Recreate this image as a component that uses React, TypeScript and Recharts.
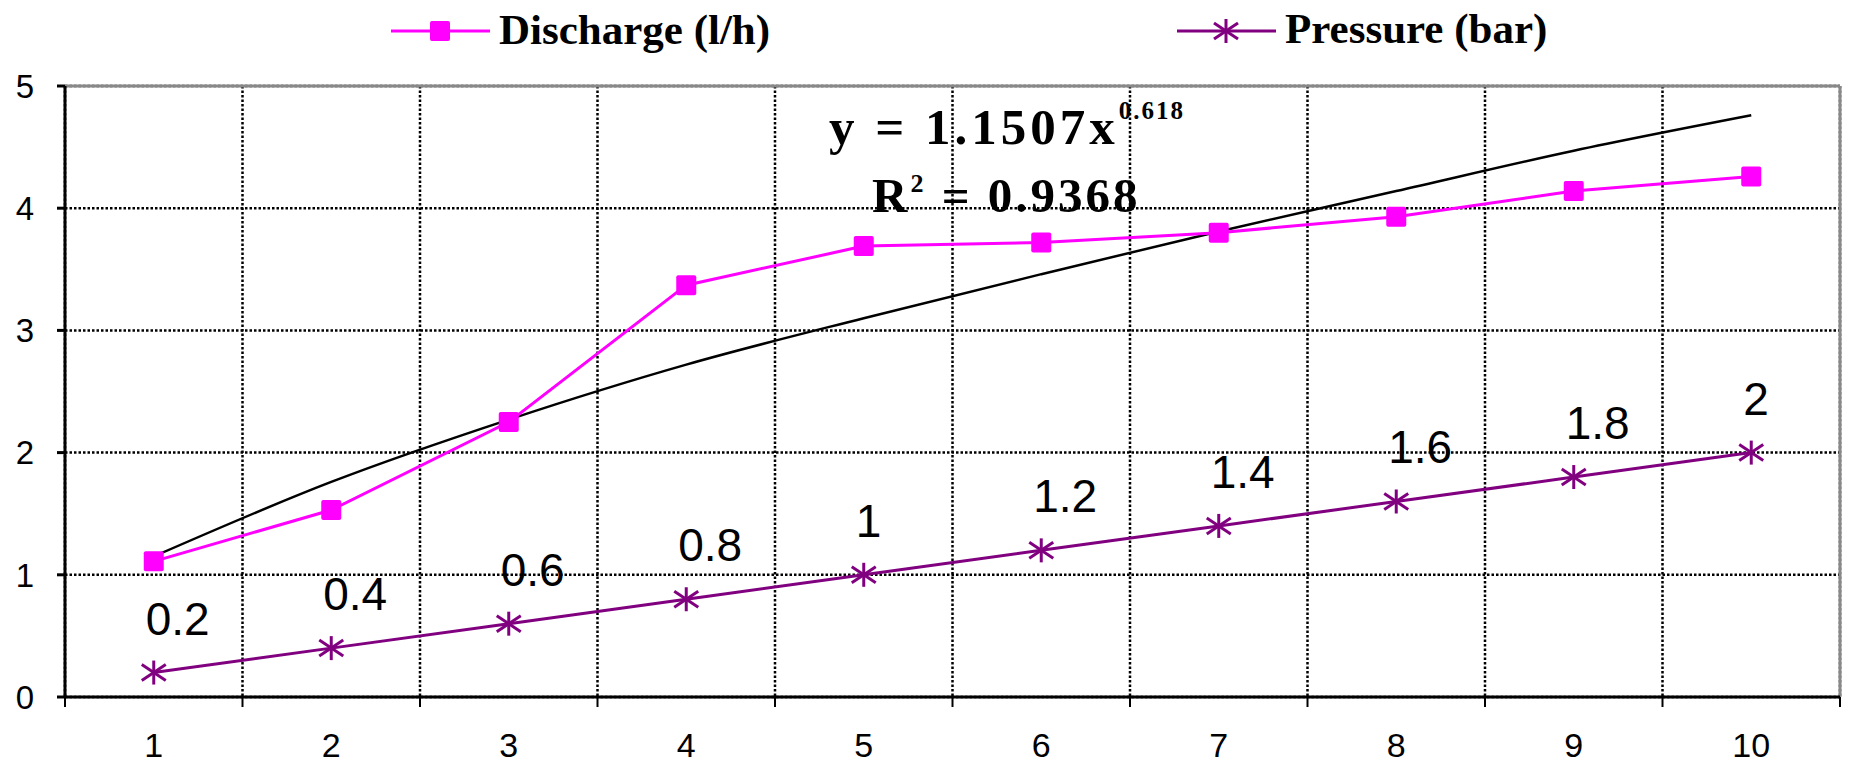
import React from "react";
import {
  LineChart,
  Line,
  XAxis,
  YAxis,
  CartesianGrid,
  ReferenceLine,
  LabelList,
} from "recharts";

const positions = [1, 2, 3, 4, 5, 6, 7, 8, 9, 10];
const discharge = [1.11, 1.53, 2.25, 3.37, 3.69, 3.72, 3.8, 3.93, 4.14, 4.26];
const pressure = [0.2, 0.4, 0.6, 0.8, 1, 1.2, 1.4, 1.6, 1.8, 2];
// power trendline as drawn in the picture
const trend = [1.15, 1.76, 2.27, 2.72, 3.1, 3.46, 3.81, 4.14, 4.47, 4.76];
const yTicks = [0, 1, 2, 3, 4, 5];
const bandEdges = [0.5, 1.5, 2.5, 3.5, 4.5, 5.5, 6.5, 7.5, 8.5, 9.5, 10.5];

const data = positions.map((x, i) => ({
  x,
  discharge: discharge[i],
  pressure: pressure[i],
  trend: trend[i],
}));

const MAGENTA = "#FF00FF";
const PURPLE = "#800080";
const sans = "'Liberation Sans', Arial, sans-serif";
const serif = "'Liberation Serif', 'Times New Roman', serif";

const SquareDot = (props: any) => {
  const { cx, cy } = props;
  if (cx == null || cy == null) return null;
  return <rect x={cx - 10} y={cy - 10} width={20} height={20} rx={2} fill={MAGENTA} />;
};

const Star = ({ cx, cy, color }: { cx: number; cy: number; color: string }) => (
  <g stroke={color} strokeWidth={3}>
    <line x1={cx} y1={cy - 12} x2={cx} y2={cy + 12} />
    <line x1={cx - 12} y1={cy - 8} x2={cx + 12} y2={cy + 8} />
    <line x1={cx - 12} y1={cy + 8} x2={cx + 12} y2={cy - 8} />
  </g>
);

const StarDot = (props: any) => {
  const { cx, cy } = props;
  if (cx == null || cy == null) return null;
  return <Star cx={cx} cy={cy} color={PURPLE} />;
};

const PressureLabel = (props: any) => {
  const { x, y, value } = props;
  return (
    <text x={x - 8} y={y - 38} fontSize={46} fontFamily={sans} fill="#000" textAnchor="start">
      {value}
    </text>
  );
};

// tick marks only, no text, on the band-edge axis
const NoText = () => <g />;

const App: React.FC = () => {
  return (
    <div style={{ position: "absolute", left: 0, top: 0, width: 1849, height: 767, background: "#fff" }}>
      <LineChart
        width={1849}
        height={767}
        data={data}
        margin={{ top: 86, right: 9, left: 10, bottom: 0 }}
      >
        <CartesianGrid stroke="#000" strokeWidth={2.5} strokeDasharray="2.5 2" />
        <XAxis
          dataKey="x"
          type="number"
          domain={[0.5, 10.5]}
          ticks={bandEdges}
          tick={<NoText />}
          tickSize={10}
          height={12}
          axisLine={{ stroke: "#000", strokeWidth: 3 }}
          tickLine={{ stroke: "#000", strokeWidth: 2 }}
        />
        <XAxis
          xAxisId="lbl"
          dataKey="x"
          type="number"
          domain={[0.5, 10.5]}
          ticks={positions}
          height={58}
          tickSize={0}
          tickMargin={24}
          axisLine={false}
          tickLine={false}
          tick={{ fontSize: 34, fill: "#000", fontFamily: sans }}
        />
        <YAxis
          type="number"
          domain={[0, 5]}
          ticks={yTicks}
          width={55}
          tickSize={8}
          tickMargin={23}
          axisLine={{ stroke: "#000", strokeWidth: 3 }}
          tickLine={{ stroke: "#000", strokeWidth: 3 }}
          tick={{ fontSize: 33, fill: "#000", fontFamily: sans }}
        />
        <ReferenceLine y={5} stroke="#888" strokeWidth={3} />
        <ReferenceLine x={10.5} stroke="#888" strokeWidth={3} />
        <Line
          xAxisId="lbl"
          dataKey="trend"
          type="monotone"
          stroke="#000"
          strokeWidth={2.5}
          dot={false}
          isAnimationActive={false}
        />
        <Line
          dataKey="discharge"
          type="linear"
          stroke={MAGENTA}
          strokeWidth={3}
          dot={<SquareDot />}
          isAnimationActive={false}
        />
        <Line
          dataKey="pressure"
          type="linear"
          stroke={PURPLE}
          strokeWidth={3}
          dot={<StarDot />}
          isAnimationActive={false}
        >
          <LabelList dataKey="pressure" content={<PressureLabel />} />
        </Line>
      </LineChart>

      <svg
        width={1849}
        height={767}
        style={{ position: "absolute", left: 0, top: 0, pointerEvents: "none" }}
      >
        {/* legend */}
        <line x1={391} y1={31} x2={490} y2={31} stroke={MAGENTA} strokeWidth={3} />
        <rect x={430} y={21} width={20} height={20} rx={2} fill={MAGENTA} />
        <text x={499} y={44} fontFamily={serif} fontWeight="bold" fontSize={43} fill="#000">
          Discharge (l/h)
        </text>
        <line x1={1177} y1={31} x2={1276} y2={31} stroke={PURPLE} strokeWidth={3} />
        <Star cx={1226} cy={31} color={PURPLE} />
        <text x={1285} y={43} fontFamily={serif} fontWeight="bold" fontSize={43} fill="#000">
          Pressure (bar)
        </text>

        {/* trendline equation */}
        <text x={829} y={144} fontFamily={serif} fontWeight="bold" fontSize={51} letterSpacing={4} fill="#000">
          y = 1.1507x
          <tspan dy={-25} fontSize={25} letterSpacing={2}>0.618</tspan>
        </text>
        <text x={872} y={212} fontFamily={serif} fontWeight="bold" fontSize={49} letterSpacing={3} fill="#000">
          R<tspan dy={-20} fontSize={26}>2</tspan>
          <tspan dy={20}> = 0.9368</tspan>
        </text>
      </svg>
    </div>
  );
};

export default App;
